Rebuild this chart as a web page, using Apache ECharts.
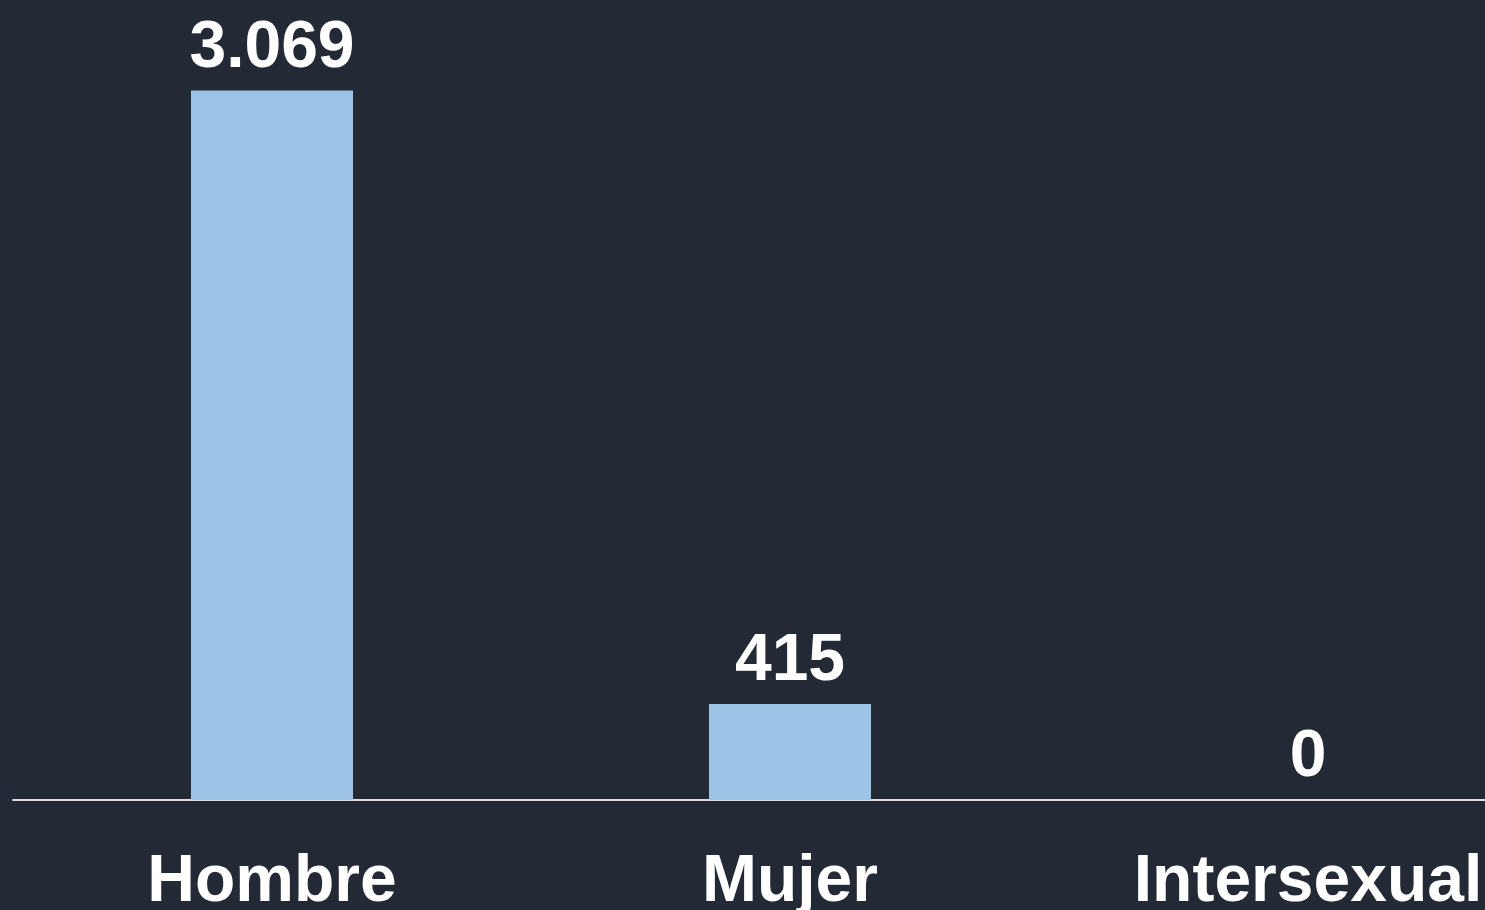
<!DOCTYPE html>
<html>
<head>
<meta charset="utf-8">
<script src="https://cdn.jsdelivr.net/npm/echarts@6/dist/echarts.min.js"></script>
<style>
  html, body { margin: 0; padding: 0; background: #232a36; overflow: hidden; width: 1485px; height: 910px; }
  /* the plot runs past the right edge of the window, as in the source */
  #chart { width: 1567px; height: 910px; }
</style>
</head>
<body>
<div id="chart"></div>
<script>
var categories = ['Hombre', 'Mujer', 'Intersexual'];
var values = [3069, 415, 0];

function formatNum(v) {
    // thousands separator as a dot
    return String(v).replace(/\B(?=(\d{3})+(?!\d))/g, '.');
}

echarts.init(document.getElementById('chart')).setOption({
    backgroundColor: '#232a36',
    animation: false,
    grid: {
        left: 13,
        right: 0,
        top: 0,
        bottom: 110,
        outerBoundsMode: 'none'
    },
    xAxis: {
        type: 'category',
        data: categories,
        axisLine: { lineStyle: { color: '#d9d9d9', width: 2 } },
        axisTick: { show: false },
        axisLabel: {
            color: '#ffffff',
            fontFamily: 'Liberation Sans',
            fontWeight: 'bold',
            fontSize: 66,
            margin: 50
        }
    },
    yAxis: {
        type: 'value',
        min: 0,
        max: 3460,
        show: false,
        splitLine: { show: false }
    },
    series: [{
        type: 'bar',
        data: values,
        barWidth: 162,
        itemStyle: { color: '#9dc3e6' },
        label: {
            show: true,
            position: 'top',
            distance: 9,
            color: '#ffffff',
            fontFamily: 'Liberation Sans',
            fontWeight: 'bold',
            fontSize: 66,
            formatter: function(p) { return formatNum(p.value); }
        }
    }]
});
</script>
</body>
</html>
